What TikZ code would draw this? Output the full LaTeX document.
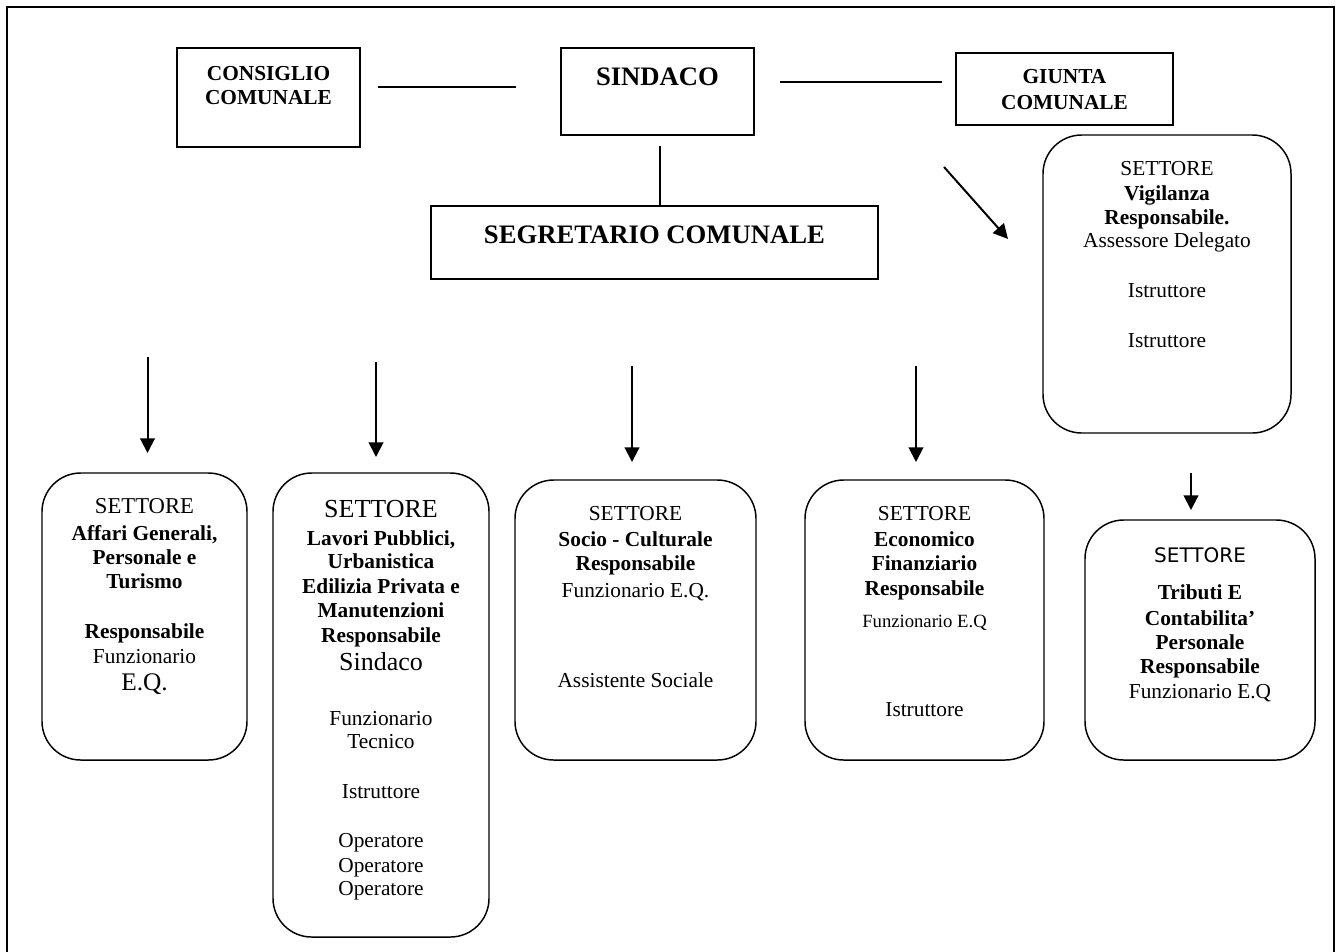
\documentclass[tikz,border=0pt]{standalone}
\usepackage{fontspec}
\setmainfont{Liberation Serif}
\newfontfamily\sansdv{DejaVu Sans}
\usetikzlibrary{arrows.meta}
\newcommand{\fs}[1]{\fontsize{#1}{#1}\selectfont}
% box from pixel corners
\newcommand{\bx}[6]{\node[#6, minimum width={(#4-#2)*0.75pt}, minimum height={(#5-#3)*0.75pt}] (#1) at ({(#2+#4)/2},{(#3+#5)/2}) {};}
% text line at baseline
\newcommand{\tl}[5]{\node[txtline, font=#4] (#1) at (#2,#3) {#5};}
\begin{document}
\begin{tikzpicture}[x=0.75pt,y=-0.75pt,
  sqbox/.style={draw, line width=1.3pt, inner sep=0pt, outer sep=0pt},
  rbox/.style={draw, line width=1.1pt, rounded corners=29pt, inner sep=0pt, outer sep=0pt},
  txtline/.style={anchor=base, inner sep=0pt, outer sep=0pt},
  link/.style={line width=1.3pt},
  arr/.style={line width=1.5pt, -{Triangle[length=11pt,width=11pt]}}]
\useasboundingbox (0,0) rectangle (1338,951);
\draw[line width=1.8pt] (7,7) rectangle (1334,990);

% top boxes
\bx{cons}{177}{48}{360}{147}{sqbox}
\bx{sind}{561}{48}{754}{135}{sqbox}
\bx{segr}{431}{206}{878}{279}{sqbox}
\bx{giun}{956}{53}{1173}{125}{sqbox}
\bx{vigi}{1043}{135}{1291}{433}{rbox}

\tl{t1}{268.5}{80}{\bfseries\fs{16}}{CONSIGLIO}
\tl{t2}{268.5}{104}{\bfseries\fs{16}}{COMUNALE}
\tl{t3}{657.5}{85}{\bfseries\fs{20}}{SINDACO}
\tl{t4}{654.5}{243}{\bfseries\fs{20}}{SEGRETARIO COMUNALE}
\tl{t5}{1064.5}{83}{\bfseries\fs{16}}{GIUNTA}
\tl{t6}{1064.5}{109}{\bfseries\fs{16}}{COMUNALE}

\tl{v1}{1167}{175}{\fs{16}}{SETTORE}
\tl{v2}{1167}{200}{\bfseries\fs{16}}{Vigilanza}
\tl{v3}{1167}{224}{\bfseries\fs{16}}{Responsabile.}
\tl{v4}{1167}{247}{\fs{16}}{Assessore Delegato}
\tl{v5}{1167}{297}{\fs{16}}{Istruttore}
\tl{v6}{1167}{347}{\fs{16}}{Istruttore}

% connectors on top
\coordinate (l1a) at (378,87); \coordinate (l1b) at (516,87);
\draw[link] (l1a) -- (l1b);
\coordinate (l2a) at (780,82); \coordinate (l2b) at (942,82);
\draw[link] (l2a) -- (l2b);
\coordinate (vs) at (660,146);
\draw[link] (vs) -- (vs |- segr.north);
\coordinate (da) at (944,167); \coordinate (db) at (1008,239);
\draw[arr] (da) -- (db);

% arrows to sectors
\coordinate (a1s) at (147.5,357); \coordinate (a1e) at (147.5,453);
\coordinate (a2s) at (376,362); \coordinate (a2e) at (376,457);
\coordinate (a3s) at (632,366); \coordinate (a3e) at (632,462);
\coordinate (a4s) at (916,366); \coordinate (a4e) at (916,462);
\coordinate (a5s) at (1191,473); \coordinate (a5e) at (1191,510);
\draw[arr] (a1s) -- (a1e);
\draw[arr] (a2s) -- (a2e);
\draw[arr] (a3s) -- (a3e);
\draw[arr] (a4s) -- (a4e);
\draw[arr] (a5s) -- (a5e);

% sector boxes
\bx{s1}{42}{473}{247}{760}{rbox}
\bx{s2}{273}{473}{489}{937}{rbox}
\bx{s3}{515}{480}{756}{760}{rbox}
\bx{s4}{805}{480}{1044}{760}{rbox}
\bx{s5}{1085}{520}{1315}{760}{rbox}

% box 1
\tl{p1}{144.5}{513}{\fs{17}}{SETTORE}
\tl{p2}{144.5}{540}{\bfseries\fs{16}}{Affari Generali,}
\tl{p3}{144.5}{564}{\bfseries\fs{16}}{Personale e}
\tl{p4}{144.5}{588}{\bfseries\fs{16}}{Turismo}
\tl{p5}{144.5}{638}{\bfseries\fs{16}}{Responsabile}
\tl{p6}{144.5}{663}{\fs{16}}{Funzionario}
\tl{p7}{144.5}{690}{\fs{19}}{E.Q.}

% box 2
\tl{q1}{381}{517}{\fs{19.5}}{SETTORE}
\tl{q2}{381}{545}{\bfseries\fs{16}}{Lavori Pubblici,}
\tl{q3}{381}{568}{\bfseries\fs{16}}{Urbanistica}
\tl{q4}{381}{593}{\bfseries\fs{16}}{Edilizia Privata e}
\tl{q5}{381}{617}{\bfseries\fs{16}}{Manutenzioni}
\tl{q6}{381}{642}{\bfseries\fs{16}}{Responsabile}
\tl{q7}{381}{670}{\fs{19.5}}{Sindaco}
\tl{q8}{381}{725}{\fs{16}}{Funzionario}
\tl{q9}{381}{748}{\fs{16}}{Tecnico}
\tl{q10}{381}{798}{\fs{16}}{Istruttore}
\tl{q11}{381}{847}{\fs{16}}{Operatore}
\tl{q12}{381}{872}{\fs{16}}{Operatore}
\tl{q13}{381}{895}{\fs{16}}{Operatore}

% box 3
\tl{r1}{635.5}{520}{\fs{16}}{SETTORE}
\tl{r2}{635.5}{546}{\bfseries\fs{16}}{Socio - Culturale}
\tl{r3}{635.5}{570}{\bfseries\fs{16}}{Responsabile}
\tl{r4}{635.5}{597}{\fs{16}}{Funzionario E.Q.}
\tl{r5}{635.5}{687}{\fs{16}}{Assistente Sociale}

% box 4
\tl{e1}{924.5}{520}{\fs{16}}{SETTORE}
\tl{e2}{924.5}{546}{\bfseries\fs{16}}{Economico}
\tl{e3}{924.5}{570}{\bfseries\fs{16}}{Finanziario}
\tl{e4}{924.5}{595}{\bfseries\fs{16}}{Responsabile}
\tl{e5}{924.5}{627}{\fs{14}}{Funzionario E.Q}
\tl{e6}{924.5}{716}{\fs{16}}{Istruttore}

% box 5
\tl{f1}{1200}{562}{\sansdv\fs{15}}{SETTORE}
\tl{f2}{1200}{599}{\bfseries\fs{16}}{Tributi E}
\tl{f3}{1200}{625}{\bfseries\fs{16}}{Contabilita’}
\tl{f4}{1200}{649}{\bfseries\fs{16}}{Personale}
\tl{f5}{1200}{673}{\bfseries\fs{16}}{Responsabile}
\tl{f6}{1200}{698}{\fs{16}}{Funzionario E.Q}
\end{tikzpicture}
\end{document}
